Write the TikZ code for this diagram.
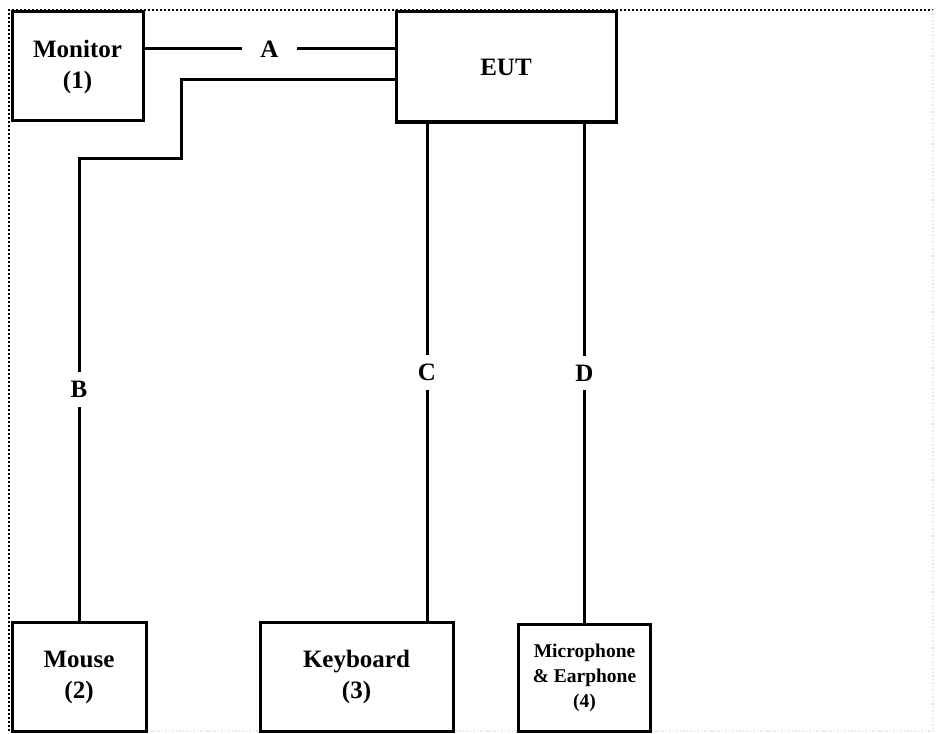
\documentclass[tikz,border=0pt]{standalone}
\usepackage{fontspec}
\setmainfont{Liberation Serif}
\usetikzlibrary{positioning}
\begin{document}
\begin{tikzpicture}[x=1pt, y=-1pt, line width=3pt,
  box/.style={draw, rectangle, align=center, font=\fontsize{25}{31}\selectfont\bfseries},
  lbl/.style={fill=white, font=\fontsize{25}{31}\selectfont\bfseries, inner xsep=4pt, inner ysep=9pt}]

\useasboundingbox (0,0) rectangle (936,733);
\fill[white] (0,0) rectangle (936,733);

% dotted frame
\draw[dotted, line width=2pt] (9,731) -- (9,10) -- (933,10);
\draw[dotted, line width=1.5pt, black!10] (933,10) -- (933,731) -- (9,731);

\node (mon) [box, minimum width=131, minimum height=109] at (77.5,66.5) {Monitor\\(1)};
\node (eut) [box, minimum width=220, minimum height=110] at (506,67) {EUT};
\node (mouse) [box, minimum width=134, minimum height=109] at (79,677) {Mouse\\(2)};
\node (kbd) [box, minimum width=193, minimum height=109] at (356.5,677) {Keyboard\\(3)};
\node (mic) [box, minimum width=132, minimum height=107, font=\fontsize{19.5}{25}\selectfont\bfseries] at (584.5,678) {Microphone\\\& Earphone\\(4)};

\draw ([yshift=17.5]mon.east) -- node[lbl, inner xsep=18pt, inner ysep=2pt] {A} ([yshift=18]eut.west);
\draw ([yshift=-13]eut.west) -- (181,80) -- (181,158) -- (mouse.north |- 0,158) -- node[lbl] {B} (mouse.north);
\draw ([xshift=-79]eut.south) -- node[lbl] {C} ([xshift=70.5]kbd.north);
\draw ([xshift=78.5]eut.south) -- node[lbl] {D} (mic.north);

\end{tikzpicture}
\end{document}
